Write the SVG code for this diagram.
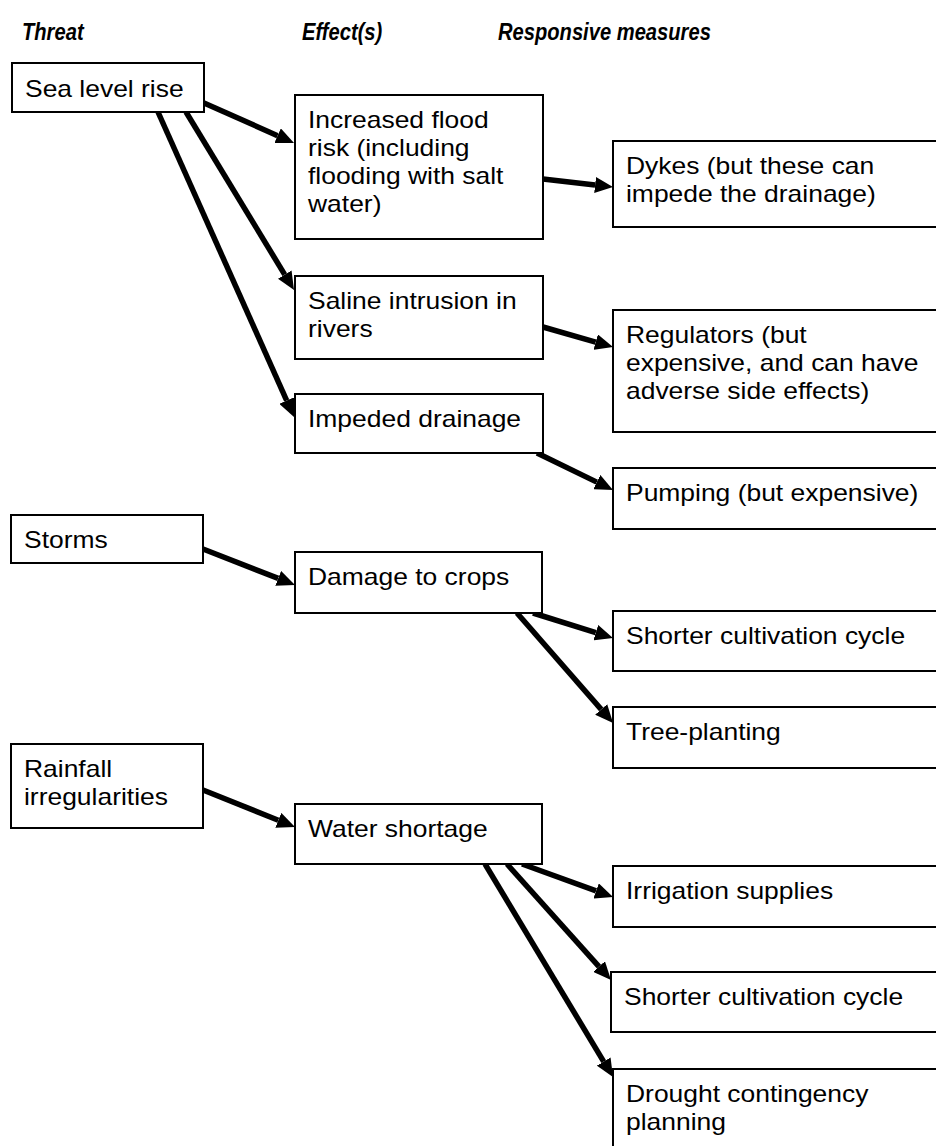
<svg xmlns="http://www.w3.org/2000/svg" width="936" height="1146" viewBox="0 0 936 1146">
<style>
  .box { fill: #fff; stroke: #000; stroke-width: 2; }
  .t { font-family: "Liberation Sans", Arial, sans-serif; font-size: 23px; fill: #000; }
  .h { font-family: "Liberation Sans", Arial, sans-serif; font-size: 24px; font-weight: bold; font-style: italic; fill: #000; }
  .c { stroke: #000; stroke-width: 5.5; fill: none; marker-end: url(#ah); }
</style>
<defs>
  <marker id="ah" markerUnits="userSpaceOnUse" markerWidth="18" markerHeight="16" viewBox="0 0 18 16" refX="0" refY="8" orient="auto">
    <path d="M0,0 L18,8 L0,16 z" fill="#000"/>
  </marker>
</defs>
<rect width="936" height="1146" fill="#fff"/>
<g id="headers">
  <text class="h" transform="translate(22,40) scale(0.84,1)">Threat</text>
  <text class="h" transform="translate(302,40) scale(0.84,1)">Effect(s)</text>
  <text class="h" transform="translate(498,40) scale(0.84,1)">Responsive measures</text>
</g>
<g id="connectors">
  <line class="c" x1="204" y1="103" x2="277.6" y2="135.7"/>
  <line class="c" x1="186" y1="112" x2="284.7" y2="274.6"/>
  <line class="c" x1="158" y1="112" x2="286.7" y2="400.6"/>
  <line class="c" x1="543" y1="179" x2="595.1" y2="185"/>
  <line class="c" x1="543" y1="327" x2="595.7" y2="342.1"/>
  <line class="c" x1="537" y1="453" x2="596.8" y2="482.1"/>
  <line class="c" x1="203" y1="549" x2="278.2" y2="578.4"/>
  <line class="c" x1="533" y1="613" x2="595.8" y2="632.6"/>
  <line class="c" x1="517" y1="613" x2="601.2" y2="709.4"/>
  <line class="c" x1="203" y1="790" x2="278.3" y2="820.3"/>
  <line class="c" x1="522" y1="864" x2="596.1" y2="890.9"/>
  <line class="c" x1="507" y1="864" x2="599" y2="966.6"/>
  <line class="c" x1="485" y1="864" x2="603.7" y2="1061.6"/>
</g>
<g id="sea-level-rise">
  <rect class="box" x="12" y="63" width="192" height="49"/>
  <text class="t" transform="translate(25,97) scale(1.15,1)">Sea level rise</text>
</g>
<g id="increased-flood-risk">
  <rect class="box" x="295" y="95" width="248" height="144"/>
  <text class="t" transform="translate(308,128) scale(1.15,1)"><tspan x="0" y="0">Increased flood</tspan><tspan x="0" y="28">risk (including</tspan><tspan x="0" y="56">flooding with salt</tspan><tspan x="0" y="84">water)</tspan></text>
</g>
<g id="dykes">
  <rect class="box" x="613" y="141" width="330" height="86"/>
  <text class="t" transform="translate(626,174) scale(1.15,1)"><tspan x="0" y="0">Dykes (but these can</tspan><tspan x="0" y="28">impede the drainage)</tspan></text>
</g>
<g id="saline-intrusion">
  <rect class="box" x="295" y="276" width="248" height="83"/>
  <text class="t" transform="translate(308,309) scale(1.15,1)"><tspan x="0" y="0">Saline intrusion in</tspan><tspan x="0" y="28">rivers</tspan></text>
</g>
<g id="regulators">
  <rect class="box" x="613" y="310" width="330" height="122"/>
  <text class="t" transform="translate(626,343) scale(1.15,1)"><tspan x="0" y="0">Regulators (but</tspan><tspan x="0" y="28">expensive, and can have</tspan><tspan x="0" y="56">adverse side effects)</tspan></text>
</g>
<g id="impeded-drainage">
  <rect class="box" x="295" y="394" width="248" height="59"/>
  <text class="t" transform="translate(308,427) scale(1.15,1)">Impeded drainage</text>
</g>
<g id="pumping">
  <rect class="box" x="613" y="468" width="330" height="61"/>
  <text class="t" transform="translate(626,501) scale(1.15,1)">Pumping (but expensive)</text>
</g>
<g id="storms">
  <rect class="box" x="11" y="515" width="192" height="48"/>
  <text class="t" transform="translate(24,548) scale(1.15,1)">Storms</text>
</g>
<g id="damage-to-crops">
  <rect class="box" x="295" y="552" width="247" height="61"/>
  <text class="t" transform="translate(308,585) scale(1.15,1)">Damage to crops</text>
</g>
<g id="shorter-cultivation-cycle-1">
  <rect class="box" x="613" y="611" width="330" height="60"/>
  <text class="t" transform="translate(626,644) scale(1.15,1)">Shorter cultivation cycle</text>
</g>
<g id="tree-planting">
  <rect class="box" x="613" y="707" width="330" height="61"/>
  <text class="t" transform="translate(626,740) scale(1.15,1)">Tree-planting</text>
</g>
<g id="rainfall-irregularities">
  <rect class="box" x="11" y="744" width="192" height="84"/>
  <text class="t" transform="translate(24,777) scale(1.15,1)"><tspan x="0" y="0">Rainfall</tspan><tspan x="0" y="28">irregularities</tspan></text>
</g>
<g id="water-shortage">
  <rect class="box" x="295" y="804" width="247" height="60"/>
  <text class="t" transform="translate(308,837) scale(1.15,1)">Water shortage</text>
</g>
<g id="irrigation-supplies">
  <rect class="box" x="613" y="866" width="330" height="61"/>
  <text class="t" transform="translate(626,899) scale(1.15,1)">Irrigation supplies</text>
</g>
<g id="shorter-cultivation-cycle-2">
  <rect class="box" x="611" y="972" width="332" height="60"/>
  <text class="t" transform="translate(624,1005) scale(1.15,1)">Shorter cultivation cycle</text>
</g>
<g id="drought-contingency-planning">
  <rect class="box" x="613" y="1069" width="330" height="100"/>
  <text class="t" transform="translate(626,1102) scale(1.15,1)"><tspan x="0" y="0">Drought contingency</tspan><tspan x="0" y="28">planning</tspan></text>
</g>
</svg>
